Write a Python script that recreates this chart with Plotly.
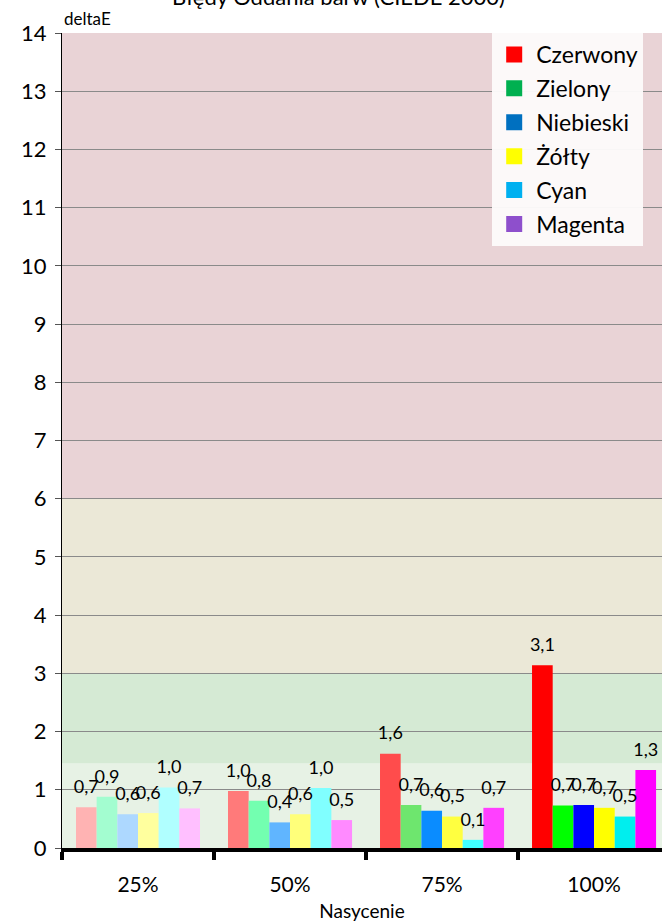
import plotly.graph_objects as go

# saturation levels on the x axis
categories = ['25%', '50%', '75%', '100%']

# deltaE per colour, one value per saturation level
series = ['Czerwony', 'Zielony', 'Niebieski', 'Żółty', 'Cyan', 'Magenta']
czerwony = [0.70, 0.98, 1.62, 3.14]
zielony = [0.88, 0.81, 0.74, 0.73]
niebieski = [0.58, 0.44, 0.64, 0.74]
zolty = [0.60, 0.58, 0.54, 0.69]
cyan = [1.04, 1.03, 0.14, 0.54]
magenta = [0.68, 0.48, 0.69, 1.34]
values = [czerwony, zielony, niebieski, zolty, cyan, magenta]

# bar colours get stronger with saturation
bar_colors = [
    ['#ffb3b3', '#ff7a7a', '#ff4c4c', '#ff0000'],
    ['#a3fdd0', '#73ffb0', '#6ee66e', '#00ff00'],
    ['#add8ff', '#60b5ff', '#0a8cff', '#0000ff'],
    ['#ffff9e', '#ffff7a', '#ffff40', '#ffff00'],
    ['#b0ffff', '#80ffff', '#40ffff', '#00eeee'],
    ['#ffbfff', '#ff8aff', '#ff40ff', '#ff00ff'],
]
# legend swatches are the series default colours, not the bar colours
legend_colors = ['#ff0000', '#00b050', '#0070c0', '#ffff00', '#00b0f0', '#8e4fcc']

FONT = 'Lato'

fig = go.Figure()

for i, name in enumerate(series):
    fig.add_trace(go.Bar(
        x=categories, y=values[i], name=name,
        marker=dict(color=bar_colors[i], line=dict(width=0)),
        offsetgroup=str(i), showlegend=False, hoverinfo='skip',
    ))
    # data labels sit a bit higher than plotly's 'outside' text would
    fig.add_trace(go.Scatter(
        x=categories, y=values[i], mode='markers+text',
        text=[f'{v:.1f}'.replace('.', ',') for v in values[i]],
        textposition='top center',
        textfont=dict(family=FONT, size=18, color='black'),
        marker=dict(size=14, opacity=0),
        offsetgroup=str(i), showlegend=False, hoverinfo='skip',
        cliponaxis=False,
    ))
    # legend only entry on a hidden overlaying axis
    fig.add_trace(go.Scatter(
        x=[None], y=[None], mode='markers', name=name, xaxis='x2',
        marker=dict(symbol='square', size=16, color=legend_colors[i]),
        legendgroup=name,
    ))

# coloured background bands
bands = [(0, 1.45, '#e7f2e5'), (1.45, 3, '#d5ead4'), (3, 6, '#ebe8d7'), (6, 14, '#e9d3d6')]
for y0, y1, c in bands:
    fig.add_shape(type='rect', xref='paper', yref='y', x0=0, x1=1, y0=y0, y1=y1,
                  fillcolor=c, line=dict(width=0), layer='below')

fig.update_layout(
    width=662, height=923,
    margin=dict(l=62, r=0, t=33, b=75),
    paper_bgcolor='white', plot_bgcolor='white',
    font=dict(family=FONT, color='black'),
    barmode='group', bargap=0.184, bargroupgap=0,
    scattermode='group', scattergap=0.184,
    xaxis=dict(
        range=[-0.5, 3.447], tickson='boundaries',
        ticks='outside', ticklen=8, tickwidth=4, tickcolor='black',
        showline=True, linecolor='black', linewidth=4,
        tickfont=dict(size=21), ticklabelstandoff=15,
        title=dict(text='Nasycenie', font=dict(size=19), standoff=10),
        showgrid=False,
    ),
    xaxis2=dict(overlaying='x', visible=False, range=[0, 1]),
    yaxis=dict(
        range=[0, 14], dtick=1, showgrid=True, gridcolor='#8a8a8a', gridwidth=1,
        ticks='outside', ticklen=6, tickcolor='#555', showline=True,
        linecolor='black', linewidth=1, tickfont=dict(size=22), zeroline=False,
        ticklabelstandoff=4,
    ),
    legend=dict(
        x=0.717, y=1.0, xanchor='left', yanchor='top',
        bgcolor='rgba(252,250,250,0.97)', font=dict(size=23),
        tracegroupgap=1, itemwidth=34,
    ),
    showlegend=True,
    annotations=[
        dict(text='deltaE', xref='paper', yref='paper', x=0, y=1, xanchor='left',
             yanchor='bottom', xshift=0, yshift=2, showarrow=False, font=dict(size=17)),
        dict(text='Błędy Oddania barw (CIEDE 2000)', xref='paper', yref='paper',
             x=0.46, y=1, xanchor='center', yanchor='bottom', yshift=21,
             showarrow=False, font=dict(size=22)),
    ],
)

# the page body has an 8px default margin, drop it so the chart sits at 0,0
fig.write_html('out.html', config={'displayModeBar': False},
               post_script="document.body.style.margin='0';")
